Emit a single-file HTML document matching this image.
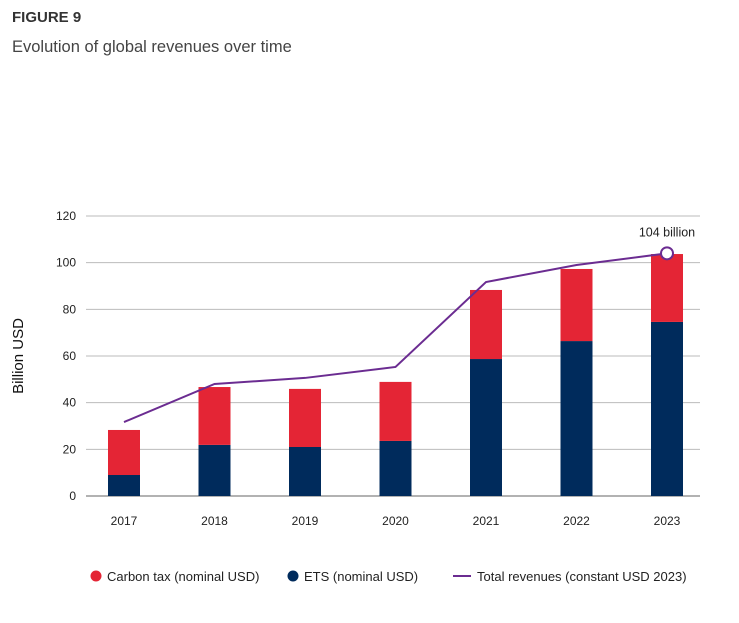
<!DOCTYPE html>
<html><head><meta charset="utf-8"><style>
body{margin:0;background:#fff;font-family:"Liberation Sans",sans-serif;}
#wrap{position:relative;width:739px;height:623px;overflow:hidden;}
</style></head><body>
<div id="wrap">
<div style="position:absolute;left:12px;top:9px;font-size:15px;font-weight:bold;color:#333;">FIGURE 9</div>
<div style="position:absolute;left:12px;top:38px;font-size:16.5px;color:#444;">Evolution of global revenues over time</div>
<svg id="chart" width="739" height="623" style="position:absolute;left:0;top:0"></svg>
</div>
<script>
const categories=["2017","2018","2019","2020","2021","2022","2023"];
const etsValues=[9,21.9,21,23.6,58.7,66.4,74.6];
const carbonTaxValues=[19.3,24.8,24.9,25.3,29.6,30.9,29.1];
const totalConstant=[31.7,48,50.6,55.3,91.7,99,104];
const yTicks=[0,20,40,60,80,100,120];
const svg=document.getElementById('chart');
const NS='http://www.w3.org/2000/svg';
function y(v){return 496-v*(280/120);}
function x(i){return 124+i*90.5;}
function mk(t,a,txt){const e=document.createElementNS(NS,t);for(const k in a)e.setAttribute(k,a[k]);if(txt!=null)e.textContent=txt;svg.appendChild(e);return e;}
yTicks.forEach(t=>{
 const g=mk('line',{x1:86,x2:700,y1:y(t),y2:y(t),stroke:t===0?'#666':'#bbb','stroke-width':1});
 
 
 const l=mk('text',{x:76,y:y(t)+4,'text-anchor':'end','font-size':12,fill:'#222'},t);
 
 
});
const yt=mk('text',{x:0,y:0,transform:'translate(23,356) rotate(-90)','text-anchor':'middle','font-size':15,fill:'#111'},'Billion USD');


categories.forEach((c,i)=>{
 const bw=32;
 const e=mk('rect',{x:x(i)-bw/2,y:y(etsValues[i]),width:bw,height:y(0)-y(etsValues[i]),fill:'#002b5c'});
 
 
 const top=etsValues[i]+carbonTaxValues[i];
 const r=mk('rect',{x:x(i)-bw/2,y:y(top),width:bw,height:y(etsValues[i])-y(top),fill:'#e42535'});
 
 
 const l=mk('text',{x:x(i),y:525,'text-anchor':'middle','font-size':12,fill:'#222'},c);
 
 
});
const pts=totalConstant.map((v,i)=>x(i)+','+y(v)).join(' ');
const pl=mk('polyline',{points:pts,fill:'none',stroke:'#6b2c91','stroke-width':2});


const last=totalConstant.length-1;
const c=mk('circle',{cx:x(last),cy:y(totalConstant[last]),r:6,fill:'#fff',stroke:'#6b2c91','stroke-width':2});


const ann=mk('text',{x:x(last),y:y(totalConstant[last])-17,'text-anchor':'middle','font-size':12.5,fill:'#222'},Math.round(totalConstant[last])+' billion');


const lg1=mk('circle',{cx:96,cy:576,r:5.5,fill:'#e42535'});


const lt1=mk('text',{x:107,y:581,'font-size':13,fill:'#222'},'Carbon tax (nominal USD)');


const lg2=mk('circle',{cx:293,cy:576,r:5.5,fill:'#002b5c'});


const lt2=mk('text',{x:304,y:581,'font-size':13,fill:'#222'},'ETS  (nominal USD)');


const lg3=mk('line',{x1:453,x2:471,y1:576,y2:576,stroke:'#6b2c91','stroke-width':2});


const lt3=mk('text',{x:477,y:581,'font-size':13,fill:'#222'},'Total revenues (constant USD 2023)');


</script>
</body></html>
